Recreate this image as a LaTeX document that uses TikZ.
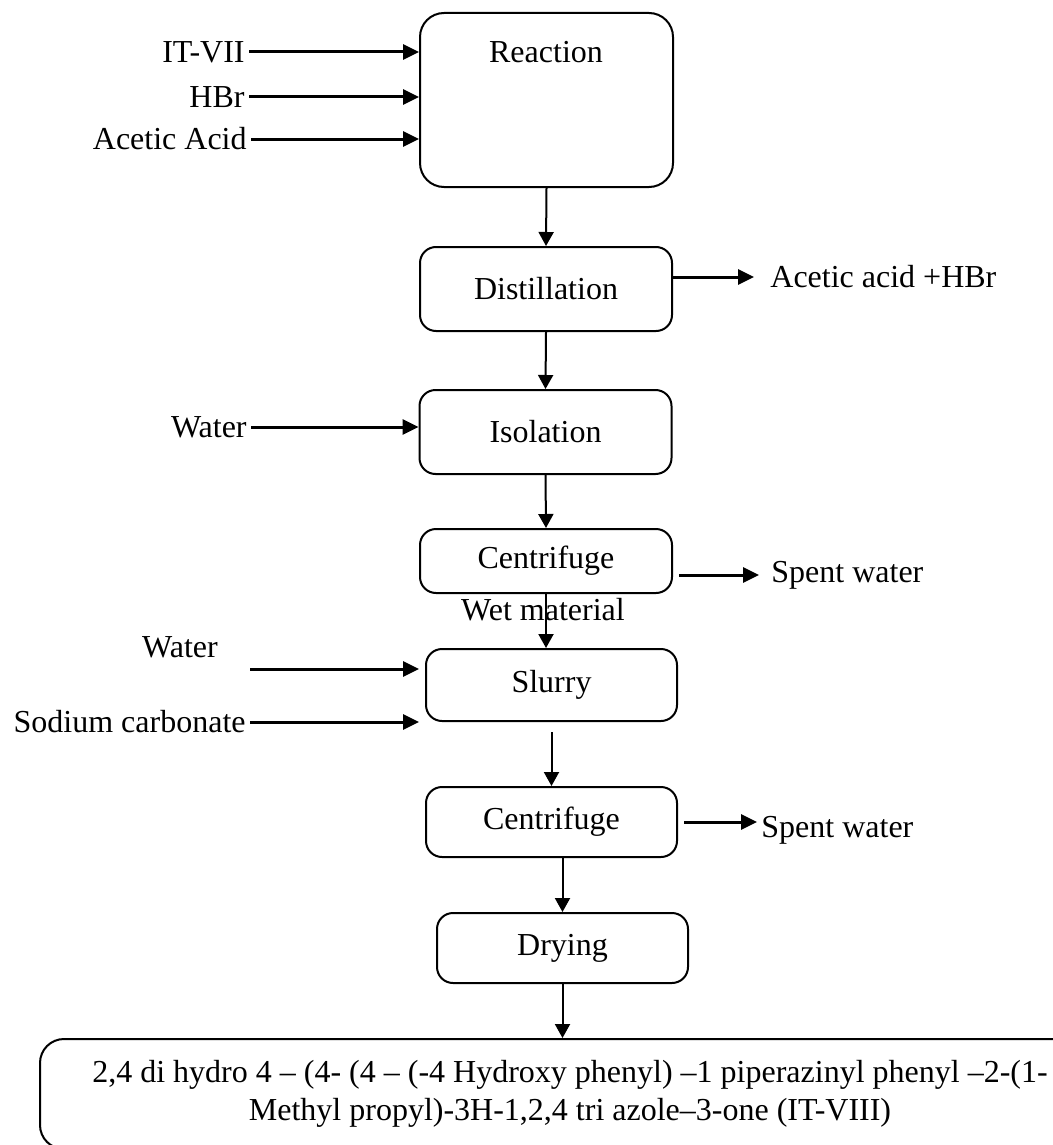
\documentclass[tikz,border=0pt]{standalone}
\usepackage{fontspec}
\setmainfont{Liberation Serif}
\usetikzlibrary{arrows.meta}
\begin{document}
\begin{tikzpicture}[x=0.5pt, y=-0.5pt, font=\fontsize{16}{19}\selectfont,
    box/.style={draw, line width=1pt, rounded corners=8pt, minimum width=126pt, minimum height=#1, inner sep=0pt},
    lbl/.style={inner sep=2pt},
    flow/.style={line width=1pt, -{Triangle[length=7pt, width=7.5pt]}},
    feed/.style={line width=1.5pt, -{Triangle[length=8pt, width=7.5pt]}}]
  \useasboundingbox (0,0) rectangle (1053,1145);
  \clip (0,0) rectangle (1053,1145);

  % Process boxes
  \node[box=87pt, minimum width=126.5pt, rounded corners=12pt] (react) at (546.5,100) {};
  \node[lbl] (reacttext) at (546,52) {Reaction};
  \node[box=42pt] (dist) at (546,289) {Distillation};
  \node[box=42pt] (iso) at (545.5,432) {Isolation};
  \node[box=32pt] (cent1) at (546,561) {Centrifuge};
  \node[box=36pt, minimum width=125.5pt] (slurry) at (551.5,685) {Slurry};
  \node[box=35pt, minimum width=125.5pt] (cent2) at (551.5,822) {Centrifuge};
  \node[box=35pt, minimum width=125.5pt] (dry) at (562.5,948) {Drying};
  \node[box=55pt, minimum width=530pt, rounded corners=12pt, align=center] (final) at (570,1094)
    {2,4 di hydro 4 – (4- (4 – (-4 Hydroxy phenyl) –1 piperazinyl phenyl –2-(1-\\
     Methyl propyl)-3H-1,2,4 tri azole–3-one (IT-VIII)};

  % Feeds to reaction
  \node[lbl, anchor=east] (itvii) at (249,52) {IT-VII};
  \node[lbl, anchor=east] (hbr) at (249,97) {HBr};
  \node[lbl, anchor=east] (acetic) at (251,139) {Acetic Acid};
  \draw[feed] (itvii.east) -- (itvii.east -| react.west);
  \draw[feed] (hbr.east) -- (hbr.east -| react.west);
  \draw[feed] (acetic.east) -- (acetic.east -| react.west);

  % Main line
  \draw[flow] (react.south) -- (dist.north);
  \draw[flow] (dist.south) -- (iso.north);
  \draw[flow] (iso.south) -- (cent1.north);
  \draw[flow] (cent1.south) -- (cent1.south |- slurry.north);
  \node[lbl] (wet) at (543,610) {Wet material};
  \draw[flow] ([yshift=-5pt]slurry.south) -- (cent2.north);
  \draw[flow] (cent2.south -| dry.north) -- (dry.north);
  \draw[flow] (dry.south) -- (dry.south |- final.north);

  % Outputs
  \node[lbl, anchor=west] (acid) at (766,277) {Acetic acid +HBr};
  \draw[feed] (acid.west -| dist.east) -- ([xshift=-6pt]acid.west);
  \node[lbl, anchor=west] (spent1) at (767,575) {Spent water};
  \draw[feed, shorten <=3pt] (spent1.west -| cent1.east) -- ([xshift=-4pt]spent1.west);
  \node[lbl, anchor=west] (spent2) at (757,830) {Spent water};
  \draw[feed, shorten <=3pt] (cent2.east) -- (cent2.east -| spent2.west);

  % Other feeds
  \node[lbl, anchor=east] (water1) at (251,427) {Water};
  \draw[feed] (water1.east) -- (water1.east -| iso.west);
  \node[lbl] (water2) at (180,647) {Water};
  \coordinate (water2in) at (250,669);
  \draw[feed, shorten >=3pt] (water2in) -- (water2in -| slurry.west);
  \node[lbl, anchor=east] (soda) at (250,722) {Sodium carbonate};
  \draw[feed, shorten >=3pt] (soda.east) -- (soda.east -| slurry.west);
\end{tikzpicture}
\end{document}
